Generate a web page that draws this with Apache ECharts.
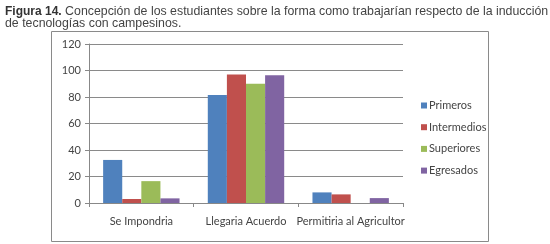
<!DOCTYPE html>
<html>
<head>
<meta charset="utf-8">
<script src="https://cdn.jsdelivr.net/npm/echarts@6/dist/echarts.min.js"></script>
<style>
  html, body { margin: 0; padding: 0; background: #fff; }
  #chart { width: 550px; height: 244px; }
</style>
</head>
<body>
<div id="chart"></div>
<script>
const categories = ['Se Impondria', 'Llegaria Acuerdo', 'Permitiria al Agricultor'];
const primeros = [32.5, 81.5, 8];
const intermedios = [3, 97, 6.5];
const superiores = [16.5, 90, 0];
const egresados = [3.5, 96.5, 3.7];
const seriesNames = ['Primeros', 'Intermedios', 'Superiores', 'Egresados'];
const colors = ['#4F81BD', '#C0504D', '#9BBB59', '#8064A2'];

const myChart = echarts.init(document.getElementById('chart'));

const barData = [primeros, intermedios, superiores, egresados];
const option = {
  animation: false,
  color: colors,
  title: {
    left: 0,
    top: 1,
    text: '{b|Figura 14.}{n| Concepción de los estudiantes sobre la forma como trabajarían respecto de la inducción}\n{n|de tecnologías con campesinos.}',
    textStyle: {
      fontFamily: 'Liberation Sans',
      fontSize: 12,
      fontWeight: 'normal',
      color: '#444',
      lineHeight: 12,
      rich: {
        b: { fontFamily: 'Liberation Sans', fontSize: 12, fontWeight: 'bold', color: '#333', lineHeight: 12 },
        n: { fontFamily: 'Liberation Sans', fontSize: 12.35, color: '#444', lineHeight: 12 }
      }
    }
  },
  graphic: [{
    type: 'rect',
    shape: { x: 51.5, y: 31.5, width: 437, height: 210 },
    style: { fill: 'none', stroke: '#8a8a8a', lineWidth: 1 },
    silent: true
  }],
  legend: {
    orient: 'vertical',
    left: 416,
    top: 95,
    itemWidth: 6,
    itemHeight: 6,
    itemGap: 10.7,
    icon: 'rect',
    textStyle: { fontFamily: 'Lato', fontSize: 11, color: '#444', padding: [0, 0, 0, -3] },
    data: seriesNames
  },
  grid: { left: 89, right: 147, top: 44, bottom: 41 },
  xAxis: {
    type: 'category',
    data: categories,
    axisLine: { lineStyle: { color: '#888' } },
    axisTick: { show: true, length: 4, lineStyle: { color: '#888' } },
    axisLabel: { fontFamily: 'Lato', fontSize: 11, color: '#444', margin: 13, interval: 0 }
  },
  yAxis: {
    type: 'value',
    min: 0,
    max: 120,
    interval: 20,
    axisLine: { show: true, lineStyle: { color: '#888' } },
    axisTick: { show: true, length: 4, lineStyle: { color: '#888' } },
    axisLabel: { fontFamily: 'Lato', fontSize: 11, color: '#444', margin: 8 },
    splitLine: { lineStyle: { color: '#8a8a8a', width: 1 } }
  },
  series: seriesNames.map((name, i) => ({
    name: name,
    type: 'bar',
    data: barData[i],
    barGap: '0%',
    barCategoryGap: '27%'
  }))
};
myChart.setOption(option);
</script>
</body>
</html>
